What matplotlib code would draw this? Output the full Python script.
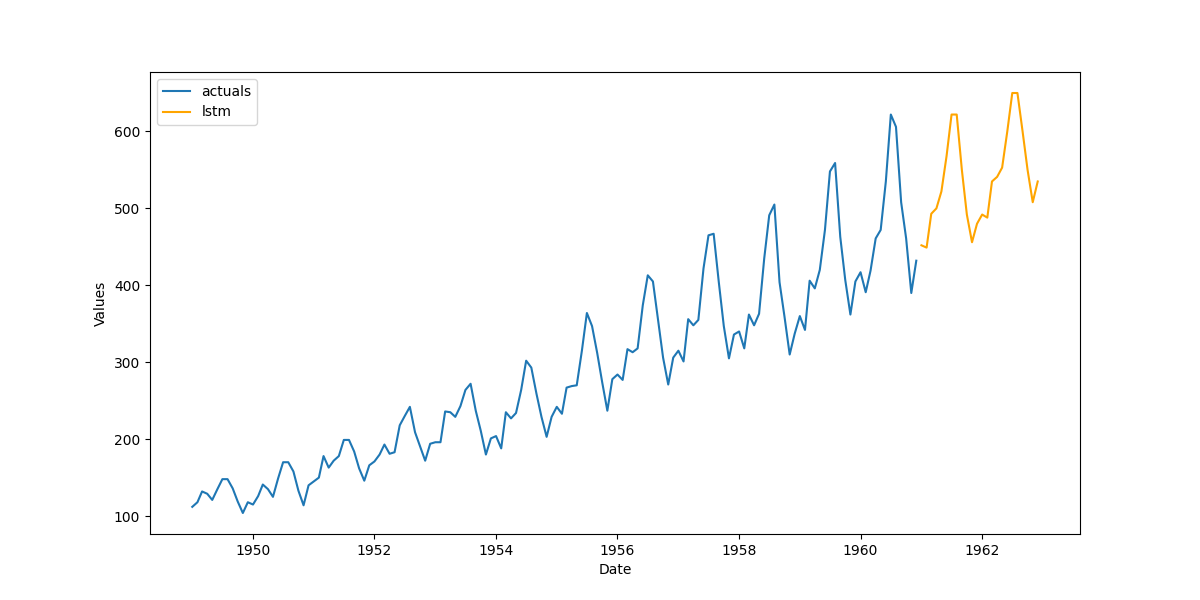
import pandas as pd
import matplotlib.pyplot as plt

# Monthly airline passengers, 1949-1960
actuals = [
    112, 118, 132, 129, 121, 135, 148, 148, 136, 119, 104, 118,
    115, 126, 141, 135, 125, 149, 170, 170, 158, 133, 114, 140,
    145, 150, 178, 163, 172, 178, 199, 199, 184, 162, 146, 166,
    171, 180, 193, 181, 183, 218, 230, 242, 209, 191, 172, 194,
    196, 196, 236, 235, 229, 243, 264, 272, 237, 211, 180, 201,
    204, 188, 235, 227, 234, 264, 302, 293, 259, 229, 203, 229,
    242, 233, 267, 269, 270, 315, 364, 347, 312, 274, 237, 278,
    284, 277, 317, 313, 318, 374, 413, 405, 355, 306, 271, 306,
    315, 301, 356, 348, 355, 422, 465, 467, 404, 347, 305, 336,
    340, 318, 362, 348, 363, 435, 491, 505, 404, 359, 310, 337,
    360, 342, 406, 396, 420, 472, 548, 559, 463, 407, 362, 405,
    417, 391, 419, 461, 472, 535, 622, 606, 508, 461, 390, 432,
]
# LSTM forecast, 1961-1962
lstm = [
    452, 449, 493, 500, 522, 568, 622, 622, 550, 492, 456, 480,
    492, 488, 535, 541, 553, 600, 650, 650, 600, 550, 508, 535,
]

actual_dates = pd.date_range('1949-01-01', periods=len(actuals), freq='MS')
lstm_dates = pd.date_range('1961-01-01', periods=len(lstm), freq='MS')

fig, ax = plt.subplots(figsize=(12, 6), dpi=100)
ax.plot(actual_dates, actuals, label='actuals')
ax.plot(lstm_dates, lstm, label='lstm', color='orange')
ax.set_xlabel('Date')
ax.set_ylabel('Values')
ax.legend(loc='upper left')
plt.savefig('out.png')
